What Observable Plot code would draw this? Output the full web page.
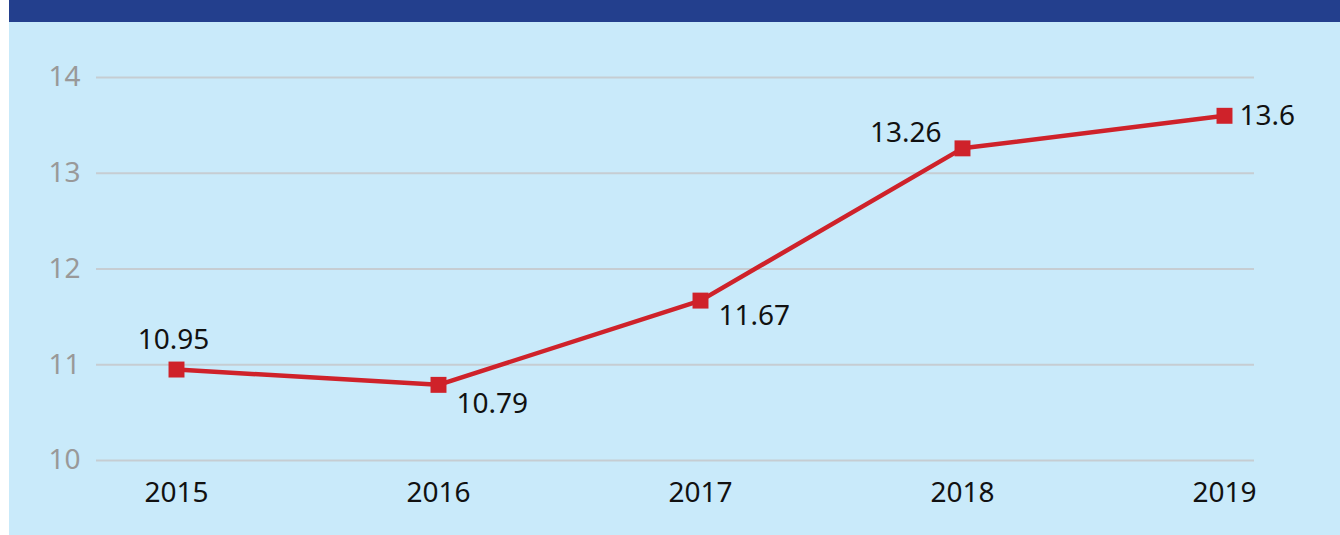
<!DOCTYPE html>
<html>
<head>
<meta charset="utf-8">
<script src="https://cdn.jsdelivr.net/npm/d3@7"></script>
<script src="https://cdn.jsdelivr.net/npm/@observablehq/plot@0.6"></script>
<style>
  html, body { margin: 0; padding: 0; background: #ffffff; }
  #wrap { position: absolute; left: 9px; top: 0; width: 1331px; height: 535px; background: #c9eafa; overflow: hidden; }
  #band { height: 22px; background: #233f8d; }
  #chart svg { display: block; }
</style>
</head>
<body>
<div id="wrap">
  <div id="band"></div>
  <div id="chart"></div>
</div>
<script>
const years = ["2015", "2016", "2017", "2018", "2019"];
const values = [10.95, 10.79, 11.67, 13.26, 13.6];
const yTicks = [10, 11, 12, 13, 14];

const data = years.map((year, i) => ({year, value: values[i]}));
const fontFamily = "'Noto Sans', 'Open Sans', sans-serif";

const labelMark = (year, opts) =>
  Plot.text(data.filter(d => d.year === year), {
    x: "year", y: "value", text: d => String(d.value),
    fill: "#111111", fontSize: 28, fontFamily, ...opts
  });

const chart = Plot.plot({
  width: 1331,
  height: 513,
  marginTop: 55,
  marginBottom: 75,
  marginLeft: 87,
  marginRight: 86,
  style: {background: "transparent", fontFamily},
  x: {type: "point", domain: years, range: [166, 1216], padding: 0, label: null},
  y: {domain: [10, 14], ticks: yTicks, label: null},
  marks: [
    Plot.ruleY(yTicks, {stroke: "#c6cdd2", strokeWidth: 2}),
    Plot.axisY(yTicks, {tickSize: 0, tickPadding: 16, fontSize: 28, fill: "#999999", label: null, fontFamily, tickFormat: d => String(d)}),
    Plot.axisX({tickSize: 0, tickPadding: 22, fontSize: 28, fill: "#111111", label: null, fontFamily}),
    Plot.line(data, {x: "year", y: "value", stroke: "#cf222a", strokeWidth: 4.5}),
    Plot.dot(data, {x: "year", y: "value", symbol: "square", r: 9, fill: "#cf222a", stroke: "none"}),
    labelMark("2015", {dx: -3, dy: -30, textAnchor: "middle"}),
    labelMark("2016", {dx: 18, dy: 19, textAnchor: "start"}),
    labelMark("2017", {dx: 18, dy: 15, textAnchor: "start"}),
    labelMark("2018", {dx: -21, dy: -15, textAnchor: "end"}),
    labelMark("2019", {dx: 15, dy: 0, textAnchor: "start"})
  ]
});
document.getElementById("chart").appendChild(chart);
</script>
</body>
</html>
